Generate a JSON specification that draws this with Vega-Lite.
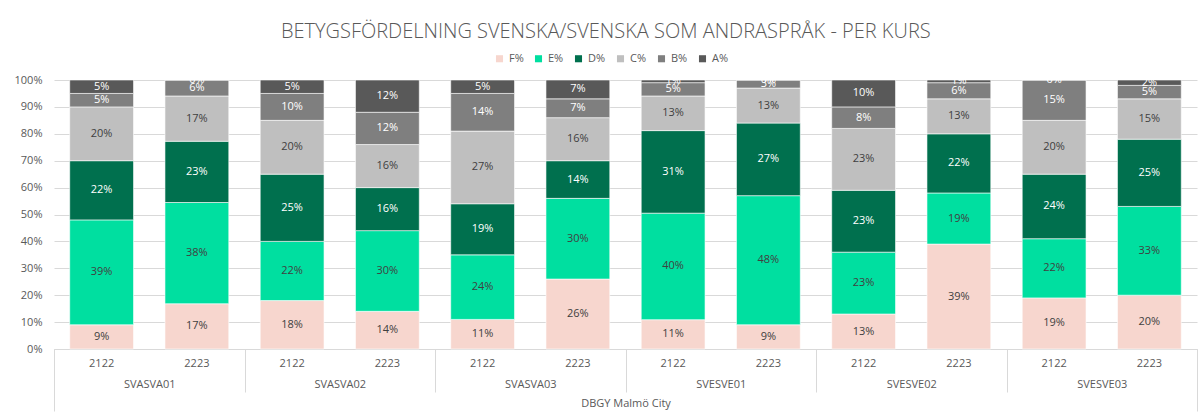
{
  "$schema": "https://vega.github.io/schema/vega-lite/v6.json",
  "width": 1143,
  "height": 269,
  "padding": {"left": 14, "top": 22, "right": 2, "bottom": 2},
  "background": "white",
  "config": {"view": {"stroke": null}, "font": "Open Sans"},
  "title": {"text": "BETYGSFÖRDELNING SVENSKA/SVENSKA SOM ANDRASPRÅK - PER KURS", "fontSize": 20, "fontWeight": 300, "color": "#595959", "anchor": "middle", "frame": "bounds", "offset": 11},
  "datasets": {
    "grades": [
      {"course": "SVASVA01", "year": "2122", "grade": "F%", "pct": 0.09, "school": "DBGY Malmö City"},
      {"course": "SVASVA01", "year": "2122", "grade": "E%", "pct": 0.39, "school": "DBGY Malmö City"},
      {"course": "SVASVA01", "year": "2122", "grade": "D%", "pct": 0.22, "school": "DBGY Malmö City"},
      {"course": "SVASVA01", "year": "2122", "grade": "C%", "pct": 0.20, "school": "DBGY Malmö City"},
      {"course": "SVASVA01", "year": "2122", "grade": "B%", "pct": 0.05, "school": "DBGY Malmö City"},
      {"course": "SVASVA01", "year": "2122", "grade": "A%", "pct": 0.05, "school": "DBGY Malmö City"},
      {"course": "SVASVA01", "year": "2223", "grade": "F%", "pct": 0.17, "school": "DBGY Malmö City"},
      {"course": "SVASVA01", "year": "2223", "grade": "E%", "pct": 0.38, "school": "DBGY Malmö City"},
      {"course": "SVASVA01", "year": "2223", "grade": "D%", "pct": 0.23, "school": "DBGY Malmö City"},
      {"course": "SVASVA01", "year": "2223", "grade": "C%", "pct": 0.17, "school": "DBGY Malmö City"},
      {"course": "SVASVA01", "year": "2223", "grade": "B%", "pct": 0.06, "school": "DBGY Malmö City"},
      {"course": "SVASVA01", "year": "2223", "grade": "A%", "pct": 0.00, "school": "DBGY Malmö City"},
      {"course": "SVASVA02", "year": "2122", "grade": "F%", "pct": 0.18, "school": "DBGY Malmö City"},
      {"course": "SVASVA02", "year": "2122", "grade": "E%", "pct": 0.22, "school": "DBGY Malmö City"},
      {"course": "SVASVA02", "year": "2122", "grade": "D%", "pct": 0.25, "school": "DBGY Malmö City"},
      {"course": "SVASVA02", "year": "2122", "grade": "C%", "pct": 0.20, "school": "DBGY Malmö City"},
      {"course": "SVASVA02", "year": "2122", "grade": "B%", "pct": 0.10, "school": "DBGY Malmö City"},
      {"course": "SVASVA02", "year": "2122", "grade": "A%", "pct": 0.05, "school": "DBGY Malmö City"},
      {"course": "SVASVA02", "year": "2223", "grade": "F%", "pct": 0.14, "school": "DBGY Malmö City"},
      {"course": "SVASVA02", "year": "2223", "grade": "E%", "pct": 0.30, "school": "DBGY Malmö City"},
      {"course": "SVASVA02", "year": "2223", "grade": "D%", "pct": 0.16, "school": "DBGY Malmö City"},
      {"course": "SVASVA02", "year": "2223", "grade": "C%", "pct": 0.16, "school": "DBGY Malmö City"},
      {"course": "SVASVA02", "year": "2223", "grade": "B%", "pct": 0.12, "school": "DBGY Malmö City"},
      {"course": "SVASVA02", "year": "2223", "grade": "A%", "pct": 0.12, "school": "DBGY Malmö City"},
      {"course": "SVASVA03", "year": "2122", "grade": "F%", "pct": 0.11, "school": "DBGY Malmö City"},
      {"course": "SVASVA03", "year": "2122", "grade": "E%", "pct": 0.24, "school": "DBGY Malmö City"},
      {"course": "SVASVA03", "year": "2122", "grade": "D%", "pct": 0.19, "school": "DBGY Malmö City"},
      {"course": "SVASVA03", "year": "2122", "grade": "C%", "pct": 0.27, "school": "DBGY Malmö City"},
      {"course": "SVASVA03", "year": "2122", "grade": "B%", "pct": 0.14, "school": "DBGY Malmö City"},
      {"course": "SVASVA03", "year": "2122", "grade": "A%", "pct": 0.05, "school": "DBGY Malmö City"},
      {"course": "SVASVA03", "year": "2223", "grade": "F%", "pct": 0.26, "school": "DBGY Malmö City"},
      {"course": "SVASVA03", "year": "2223", "grade": "E%", "pct": 0.30, "school": "DBGY Malmö City"},
      {"course": "SVASVA03", "year": "2223", "grade": "D%", "pct": 0.14, "school": "DBGY Malmö City"},
      {"course": "SVASVA03", "year": "2223", "grade": "C%", "pct": 0.16, "school": "DBGY Malmö City"},
      {"course": "SVASVA03", "year": "2223", "grade": "B%", "pct": 0.07, "school": "DBGY Malmö City"},
      {"course": "SVASVA03", "year": "2223", "grade": "A%", "pct": 0.07, "school": "DBGY Malmö City"},
      {"course": "SVESVE01", "year": "2122", "grade": "F%", "pct": 0.11, "school": "DBGY Malmö City"},
      {"course": "SVESVE01", "year": "2122", "grade": "E%", "pct": 0.40, "school": "DBGY Malmö City"},
      {"course": "SVESVE01", "year": "2122", "grade": "D%", "pct": 0.31, "school": "DBGY Malmö City"},
      {"course": "SVESVE01", "year": "2122", "grade": "C%", "pct": 0.13, "school": "DBGY Malmö City"},
      {"course": "SVESVE01", "year": "2122", "grade": "B%", "pct": 0.05, "school": "DBGY Malmö City"},
      {"course": "SVESVE01", "year": "2122", "grade": "A%", "pct": 0.01, "school": "DBGY Malmö City"},
      {"course": "SVESVE01", "year": "2223", "grade": "F%", "pct": 0.09, "school": "DBGY Malmö City"},
      {"course": "SVESVE01", "year": "2223", "grade": "E%", "pct": 0.48, "school": "DBGY Malmö City"},
      {"course": "SVESVE01", "year": "2223", "grade": "D%", "pct": 0.27, "school": "DBGY Malmö City"},
      {"course": "SVESVE01", "year": "2223", "grade": "C%", "pct": 0.13, "school": "DBGY Malmö City"},
      {"course": "SVESVE01", "year": "2223", "grade": "B%", "pct": 0.03, "school": "DBGY Malmö City"},
      {"course": "SVESVE01", "year": "2223", "grade": "A%", "pct": 0.00, "school": "DBGY Malmö City"},
      {"course": "SVESVE02", "year": "2122", "grade": "F%", "pct": 0.13, "school": "DBGY Malmö City"},
      {"course": "SVESVE02", "year": "2122", "grade": "E%", "pct": 0.23, "school": "DBGY Malmö City"},
      {"course": "SVESVE02", "year": "2122", "grade": "D%", "pct": 0.23, "school": "DBGY Malmö City"},
      {"course": "SVESVE02", "year": "2122", "grade": "C%", "pct": 0.23, "school": "DBGY Malmö City"},
      {"course": "SVESVE02", "year": "2122", "grade": "B%", "pct": 0.08, "school": "DBGY Malmö City"},
      {"course": "SVESVE02", "year": "2122", "grade": "A%", "pct": 0.10, "school": "DBGY Malmö City"},
      {"course": "SVESVE02", "year": "2223", "grade": "F%", "pct": 0.39, "school": "DBGY Malmö City"},
      {"course": "SVESVE02", "year": "2223", "grade": "E%", "pct": 0.19, "school": "DBGY Malmö City"},
      {"course": "SVESVE02", "year": "2223", "grade": "D%", "pct": 0.22, "school": "DBGY Malmö City"},
      {"course": "SVESVE02", "year": "2223", "grade": "C%", "pct": 0.13, "school": "DBGY Malmö City"},
      {"course": "SVESVE02", "year": "2223", "grade": "B%", "pct": 0.06, "school": "DBGY Malmö City"},
      {"course": "SVESVE02", "year": "2223", "grade": "A%", "pct": 0.01, "school": "DBGY Malmö City"},
      {"course": "SVESVE03", "year": "2122", "grade": "F%", "pct": 0.19, "school": "DBGY Malmö City"},
      {"course": "SVESVE03", "year": "2122", "grade": "E%", "pct": 0.22, "school": "DBGY Malmö City"},
      {"course": "SVESVE03", "year": "2122", "grade": "D%", "pct": 0.24, "school": "DBGY Malmö City"},
      {"course": "SVESVE03", "year": "2122", "grade": "C%", "pct": 0.20, "school": "DBGY Malmö City"},
      {"course": "SVESVE03", "year": "2122", "grade": "B%", "pct": 0.15, "school": "DBGY Malmö City"},
      {"course": "SVESVE03", "year": "2122", "grade": "A%", "pct": 0.00, "school": "DBGY Malmö City"},
      {"course": "SVESVE03", "year": "2223", "grade": "F%", "pct": 0.20, "school": "DBGY Malmö City"},
      {"course": "SVESVE03", "year": "2223", "grade": "E%", "pct": 0.33, "school": "DBGY Malmö City"},
      {"course": "SVESVE03", "year": "2223", "grade": "D%", "pct": 0.25, "school": "DBGY Malmö City"},
      {"course": "SVESVE03", "year": "2223", "grade": "C%", "pct": 0.15, "school": "DBGY Malmö City"},
      {"course": "SVESVE03", "year": "2223", "grade": "B%", "pct": 0.05, "school": "DBGY Malmö City"},
      {"course": "SVESVE03", "year": "2223", "grade": "A%", "pct": 0.02, "school": "DBGY Malmö City"}
    ]
  },
  "data": {"name": "grades"},
  "transform": [{"calculate": "datum.course + ' ' + datum.year", "as": "bar"}],
  "resolve": {"scale": {"x": "independent"}, "axis": {"x": "independent"}},
  "layer": [
    {
      "encoding": {
        "x": {"field": "bar", "type": "nominal", "sort": null,
              "scale": {"paddingInner": 0.33, "paddingOuter": 0.165},
              "axis": {"orient": "bottom", "title": null, "labelAngle": 0, "ticks": false, "grid": false,
                       "domainColor": "#D9D9D9", "labelColor": "#595959", "labelFontSize": 11, "labelPadding": 8,
                       "labelExpr": "substring(datum.label, 9)"}},
        "y": {"field": "pct", "type": "quantitative", "stack": "normalize",
              "axis": {"title": null, "format": ".0%", "values": [0, 0.1, 0.2, 0.3, 0.4, 0.5, 0.6, 0.7, 0.8, 0.9, 1],
                       "labelOverlap": false, "domain": false, "ticks": false, "gridColor": "#D9D9D9", "labelColor": "#595959",
                       "labelFontSize": 11, "labelPadding": 12}},
        "order": {"field": "grade", "sort": "descending"}
      },
      "layer": [
        {
          "mark": {"type": "bar", "stroke": "white", "strokeWidth": 0.6},
          "encoding": {
            "color": {"field": "grade", "type": "nominal",
                      "scale": {"domain": ["F%", "E%", "D%", "C%", "B%", "A%"],
                                "range": ["#F7D6CE", "#00DFA0", "#00704E", "#BFBFBF", "#7F7F7F", "#595959"]},
                      "legend": {"orient": "none", "legendX": 440, "legendY": -27, "direction": "horizontal", "title": null,
                                 "symbolType": "square", "symbolSize": 50, "symbolStrokeWidth": 0,
                                 "labelFontSize": 11, "labelColor": "#595959", "columnPadding": 9, "labelOffset": 4}}
          }
        },
        {
          "mark": {"type": "text", "fontSize": 11, "baseline": "middle"},
          "encoding": {
            "y": {"field": "pct", "type": "quantitative", "stack": "normalize", "bandPosition": 0.5},
            "detail": {"field": "grade"},
            "text": {"field": "pct", "type": "quantitative", "format": ".0%"},
            "color": {"condition": {"test": "datum.grade == 'D%' || datum.grade == 'B%' || datum.grade == 'A%'", "value": "white"}, "value": "#404040"}
          }
        }
      ]
    },
    {
      "mark": {"type": "text", "text": ""},
      "encoding": {
        "x": {"field": "course", "type": "nominal", "sort": null,
              "scale": {"paddingInner": 0, "paddingOuter": 0},
              "axis": {"orient": "bottom", "title": null, "labelAngle": 0, "domain": false, "grid": false,
                       "tickBand": "extent", "tickSize": 43, "tickColor": "#D9D9D9", "labelColor": "#595959",
                       "labelFontSize": 11, "labelPadding": -14, "labelBaseline": "top"}}
      }
    },
    {
      "mark": {"type": "text", "text": ""},
      "encoding": {
        "x": {"field": "school", "type": "nominal",
              "scale": {"paddingInner": 0, "paddingOuter": 0},
              "axis": {"orient": "bottom", "title": null, "labelAngle": 0, "domain": false, "grid": false,
                       "tickBand": "extent", "tickSize": 62, "tickColor": "#D9D9D9", "labelColor": "#595959",
                       "labelFontSize": 11, "labelPadding": -14, "labelBaseline": "top"}}
      }
    }
  ]
}
